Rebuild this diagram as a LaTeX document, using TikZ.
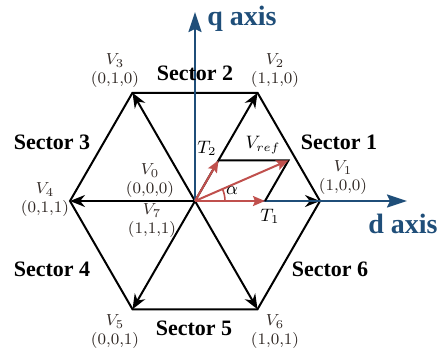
\documentclass[tikz,border=0pt]{standalone}
\usepackage{fontspec}
\setmainfont{Liberation Serif}
\usetikzlibrary{arrows.meta,positioning,calc}
\definecolor{axblue}{RGB}{31,78,121}
\definecolor{vred}{RGB}{192,80,77}
\definecolor{lblgray}{RGB}{48,40,36}

\begin{document}
\begin{tikzpicture}[x=0.5pt,y=0.5pt,
 hexln/.style={line width=1pt,black},
 vec/.style={line width=1pt,-{Stealth[length=7.5pt,width=6pt]}},
 ax/.style={line width=1pt,axblue,-{Stealth[length=10pt,width=6.5pt,inset=1.5pt]}},
 rv/.style={line width=1pt,vred,-{Stealth[length=6pt,width=5pt,inset=1pt]}},
 sec/.style={font=\fontsize{11}{13}\selectfont\bfseries},
 vl/.style={font=\fontsize{8}{9.5}\selectfont,align=center,text=lblgray,inner sep=0pt},
 axl/.style={font=\fontsize{14}{16}\selectfont\bfseries,text=axblue},
 ml/.style={font=\fontsize{9}{11}\selectfont,inner sep=1pt}]
\useasboundingbox (-195,-149) rectangle (248,201);
% hexagon and the six active vectors
\coordinate (o) at (0,0);
\foreach \i in {1,...,6} \coordinate (v\i) at ({(\i-1)*60}:125);
\draw[hexln] (v1)--(v2)--(v3)--(v4)--(v5)--(v6)--cycle;
\foreach \i in {1,...,6} \draw[vec] (o)--(v\i);
% axes
\coordinate (qend) at (0,189);
\coordinate (dend) at (212,0);
\draw[ax] (o)--(qend);
\draw[ax] (o)--(dend);
\node[axl] (qlbl) at (47,182) {q axis};
\node[axl] (dlbl) at (208,-23) {d axis};
% reference vector in sector 1
\coordinate (t1) at (0:70);
\coordinate (t2) at (60:47);
\coordinate (vr) at ($(t1)+(t2)$);
\draw[hexln] (t2)--(vr)--(t1);
\draw[rv] (o)--(t1);
\draw[rv] (o)--(t2);
\draw[rv] (o)--(vr);
\draw[vred,line width=0.8pt] (30,0) arc[start angle=0,end angle=23.5,radius=30];
\node[ml] (t1l) at (75,-15) {$T_1$};
\node[ml] (t2l) at (12,53) {$T_2$};
\node[ml] (vrl) at (68,56) {$V_{ref}$};
\node[ml] (al) at (37,10) {$\alpha$};
% vertex labels
\node[vl] (l1) at (148,23) {$V_1$\\$(1{,}0{,}0)$};
\node[vl] (l2) at (80,130) {$V_2$\\$(1{,}1{,}0)$};
\node[vl] (l3) at (-80,130) {$V_3$\\$(0{,}1{,}0)$};
\node[vl] (l4) at (-150,1) {$V_4$\\$(0{,}1{,}1)$};
\node[vl] (l5) at (-80,-131) {$V_5$\\$(0{,}0{,}1)$};
\node[vl] (l6) at (80,-131) {$V_6$\\$(1{,}0{,}1)$};
\node[vl] (l0) at (-45,20) {$V_0$\\$(0{,}0{,}0)$};
\node[vl] (l7) at (-43,-20) {$V_7$\\$(1{,}1{,}1)$};
% sectors
\node[sec] (s1) at (144,59) {Sector 1};
\node[sec] (s2) at (0,128) {Sector 2};
\node[sec] (s3) at (-143,59) {Sector 3};
\node[sec] (s4) at (-143,-68) {Sector 4};
\node[sec] (s5) at (-1,-127) {Sector 5};
\node[sec] (s6) at (135,-68) {Sector 6};
\end{tikzpicture}
\end{document}
